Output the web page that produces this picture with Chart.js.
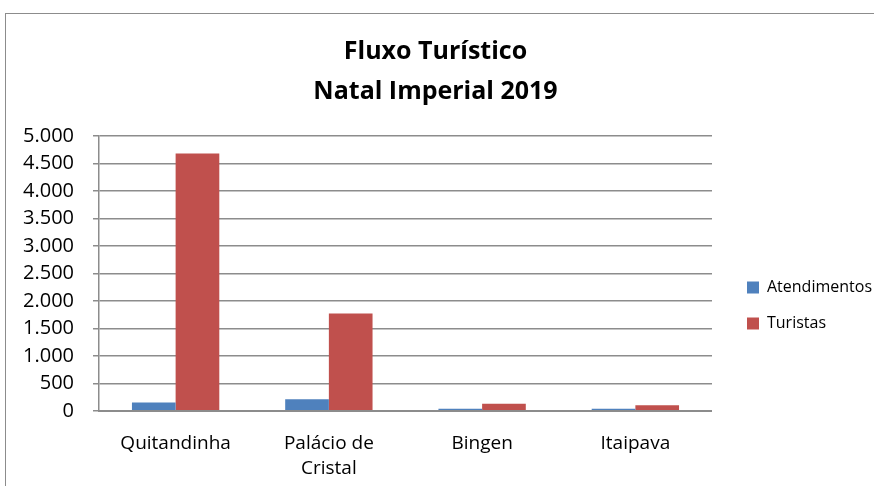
<!DOCTYPE html>
<html>
<head>
  <meta charset="utf-8">
  <title>Fluxo Turístico</title>
  <script src="https://cdn.jsdelivr.net/npm/chart.js@4.4.1/dist/chart.umd.min.js"></script>
  <style>
    body { margin: 0; background: #fff; }
    #wrap { position: relative; width: 874px; height: 486px; overflow: hidden; }
    #frame { position: absolute; left: 5px; top: 13px; width: 900px; height: 500px; border: 1.5px solid #8c8c8c; }
    canvas { position: absolute; left: 0; top: 0; }
  </style>
</head>
<body>
<div id="wrap">
  <div id="frame"></div>
  <canvas id="myChart" width="874" height="486"></canvas>
</div>
<script>
// dados
const categorias = ['Quitandinha', ['Palácio de', 'Cristal'], 'Bingen', 'Itaipava'];
const atendimentos = [150, 210, 40, 40];
const turistas = [4680, 1770, 130, 100];

const fonte = "'Open Sans', 'Liberation Sans', sans-serif";

function formatar(v) {
  return String(v).replace(/\B(?=(\d{3})+(?!\d))/g, '.');
}

// desloca a legenda para ficar na posição do original
const moverLegenda = {
  id: 'moverLegenda',
  afterLayout(chart) {
    const l = chart.legend;
    l.top += 43;
    l.bottom += 43;
    l.left += 15;
    l.right += 15;
  }
};

const ctx = document.getElementById('myChart').getContext('2d');
const myChart = new Chart(ctx, {
  type: 'bar',
  data: {
    labels: categorias,
    datasets: [{
      label: 'Atendimentos',
      data: atendimentos,
      backgroundColor: '#4f81bd'
    }, {
      label: 'Turistas',
      data: turistas,
      backgroundColor: '#c0504d'
    }]
  },
  plugins: [moverLegenda],
  options: {
    responsive: false,
    animation: false,
    categoryPercentage: 0.57,
    barPercentage: 1,
    layout: { padding: { left: 4, right: 7, top: 32, bottom: -7 } },
    plugins: {
      title: {
        display: true,
        text: ['Fluxo Turístico', 'Natal Imperial 2019'],
        color: '#000',
        font: { family: fonte, size: 25, weight: 'bold', lineHeight: 1.6 },
        padding: { top: 0, bottom: 24 }
      },
      legend: {
        position: 'right',
        labels: {
          color: '#000',
          font: { family: fonte, size: 16 },
          boxWidth: 12,
          boxHeight: 12,
          padding: 20
        }
      },
      tooltip: { enabled: false }
    },
    scales: {
      x: {
        grid: { display: false },
        border: { color: '#8c8c8c', width: 2 },
        ticks: { color: '#000', font: { family: fonte, size: 19, lineHeight: 1.32 }, maxRotation: 0, padding: 12 }
      },
      y: {
        min: 0,
        max: 5000,
        grid: { color: '#8c8c8c', lineWidth: 1.5, tickLength: 6 },
        border: { color: '#8c8c8c', width: 1.5 },
        ticks: {
          stepSize: 500,
          color: '#000',
          font: { family: fonte, size: 20 },
          padding: 19,
          callback: function (v) { return formatar(v); }
        }
      }
    }
  }
});
</script>
</body>
</html>
